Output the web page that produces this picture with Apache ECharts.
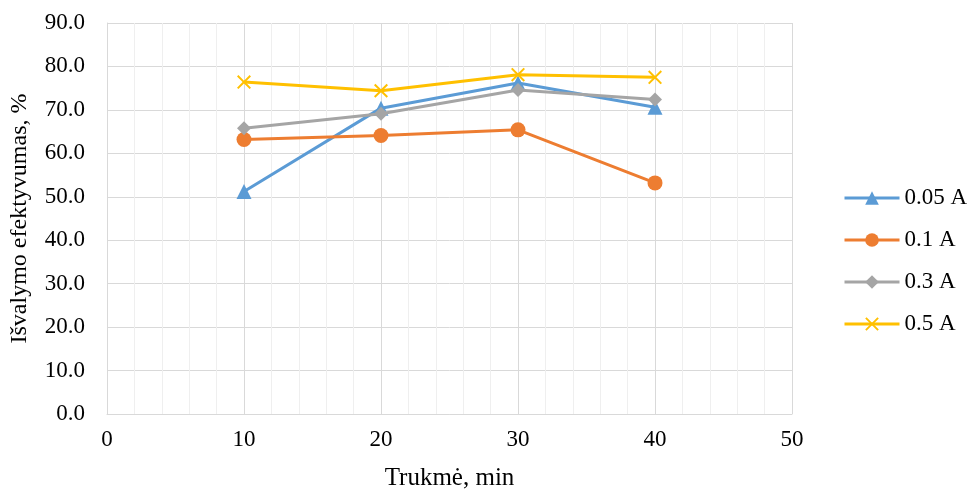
<!DOCTYPE html>
<html>
<head>
<meta charset="utf-8">
<script src="https://cdn.jsdelivr.net/npm/echarts@6/dist/echarts.min.js"></script>
<style>html,body{margin:0;padding:0;background:#fff}#c{width:969px;height:491px}</style>
</head>
<body>
<div id="c"></div>
<script>
const xValues = [10, 20, 30, 40];
const s005 = [51.2, 70.4, 76.2, 70.6];
const s01 = [63.2, 64.1, 65.4, 53.2];
const s03 = [65.8, 69.1, 74.6, 72.4];
const s05 = [76.4, 74.4, 78.1, 77.5];
const seriesNames = ['0.05 A', '0.1 A', '0.3 A', '0.5 A'];
const colors = ['#5b9bd5', '#ed7d31', '#a5a5a5', '#ffc000'];
const xPath = 'path://M1,0 L5,4 L9,0 L10,1 L6,5 L10,9 L9,10 L5,6 L1,10 L0,9 L4,5 L0,1 Z';
const symbols = ['triangle', 'circle', 'diamond', xPath];
const sizes = [15, 15, 14, 14];
const allData = [s005, s01, s03, s05];

const font = 'Liberation Serif';
const chart = echarts.init(document.getElementById('c'));
chart.setOption({
  animation: false,
  textStyle: { fontFamily: font },
  grid: { left: 107, right: 177, top: 23, bottom: 77, outerBoundsMode: 'none', containLabel: false },
  legend: {
    orient: 'vertical',
    left: 838,
    top: 181,
    itemWidth: 55,
    itemHeight: 17,
    itemGap: 18,
    lineStyle: { width: 3 },
    textStyle: { fontFamily: font, fontSize: 23, lineHeight: 24, color: '#000' },
    data: seriesNames
  },
  xAxis: {
    type: 'value',
    min: 0, max: 50, interval: 10,
    name: 'Trukmė, min',
    nameLocation: 'middle',
    nameGap: 52,
    nameTextStyle: { fontFamily: font, fontSize: 25, color: '#000' },
    axisLine: { show: true, lineStyle: { color: '#d9d9d9', width: 1 } },
    axisTick: { show: false },
    axisLabel: { color: '#000', fontSize: 23, fontFamily: font, margin: 14 },
    splitLine: { show: true, lineStyle: { color: '#d9d9d9', width: 1 } },
    minorTick: { show: false, splitNumber: 5 },
    minorSplitLine: { show: true, lineStyle: { color: '#efefef', width: 1 } }
  },
  yAxis: {
    type: 'value',
    min: 0, max: 90, interval: 10,
    name: 'Išvalymo efektyvumas, %',
    nameLocation: 'middle',
    nameGap: 75,
    nameRotate: 90,
    nameTextStyle: { fontFamily: font, fontSize: 24, color: '#000' },
    axisLine: { show: true, lineStyle: { color: '#d9d9d9', width: 1 } },
    axisTick: { show: false },
    axisLabel: { color: '#000', fontSize: 23, fontFamily: font, margin: 22, formatter: v => v.toFixed(1) },
    splitLine: { show: true, lineStyle: { color: '#d9d9d9', width: 1 } }
  },
  series: seriesNames.map((n, i) => ({
    name: n,
    type: 'line',
    data: xValues.map((x, j) => [x, allData[i][j]]),
    symbol: symbols[i],
    symbolSize: sizes[i],
    showAllSymbol: true,
    lineStyle: { color: colors[i], width: 3 },
    itemStyle: { color: colors[i], borderWidth: 0 },
    z: 2 + i
  }))
});
</script>
</body>
</html>
